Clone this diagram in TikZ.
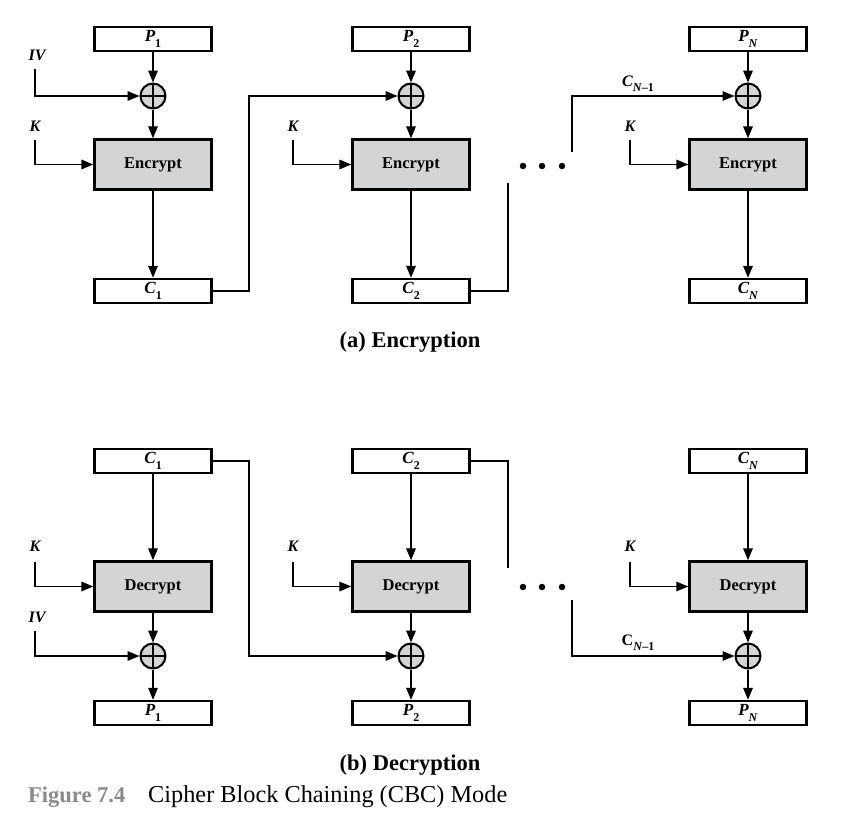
\documentclass[tikz,border=0pt]{standalone}
\usepackage{fontspec}
\setmainfont{Liberation Serif}
\usetikzlibrary{arrows.meta}
\definecolor{boxgray}{RGB}{211,212,214}
\definecolor{capgray}{RGB}{138,138,140}
% subscript set a little lower and smaller than the base letter
\newcommand\lowsub[1]{\raisebox{-0.32em}{\fontsize{12}{12}\selectfont #1}}
\newcommand\ital[1]{\textbf{\textit{#1}}}
\newcommand\upb[1]{\textbf{\textup{#1}}}
\begin{document}
\begin{tikzpicture}[x=1pt,y=-1pt,
  every node/.style={font=\fontsize{16}{18}\selectfont},
  datbox/.style={draw,line width=2.4pt,fill=white,minimum width=117,minimum height=24,inner sep=0pt,
    font=\fontsize{17}{19}\selectfont},
  cipherbox/.style={draw,line width=2.4pt,fill=boxgray,minimum width=117,minimum height=50,inner sep=0pt,
    font=\fontsize{16.5}{18}\selectfont\bfseries},
  xorgate/.style={circle,draw,line width=2pt,fill=boxgray,minimum size=25,inner sep=0pt,
    path picture={\draw[line width=1.6pt]
      (path picture bounding box.north) -- (path picture bounding box.south)
      (path picture bounding box.west) -- (path picture bounding box.east);}},
  keylab/.style={font=\fontsize{16}{18}\selectfont\bfseries\itshape,inner sep=0pt},
  wire/.style={line width=1.7pt,-{Triangle[length=12pt,width=9.5pt]}},
  plain/.style={line width=1.7pt},
  dotmark/.style={circle,fill=black,minimum size=6.5,inner sep=0pt},
  heading/.style={font=\fontsize{22.5}{26}\selectfont\bfseries}
]
\useasboundingbox (0,0) rectangle (845,835);
\fill[white] (0,0) rectangle (845,835);

% ---------------- (a) Encryption ----------------
\foreach \c/\x in {1/153,2/411,3/748}{
  \node[xorgate] (ex\c) at (\x,96) {};
  \node[cipherbox] (enc\c) at (\x,164.5) {Encrypt};
}
\node[datbox] (ep1) at (153,39) {\ital{P}\lowsub{\upb{1}}};
\node[datbox] (ep2) at (411,39) {\ital{P}\lowsub{\upb{2}}};
\node[datbox] (ep3) at (748,39) {\ital{P}\lowsub{\ital{N}}};
\node[datbox] (ec1) at (153,291) {\ital{C}\lowsub{\upb{1}}};
\node[datbox] (ec2) at (411,291) {\ital{C}\lowsub{\upb{2}}};
\node[datbox] (ec3) at (748,291) {\ital{C}\lowsub{\ital{N}}};

\foreach \c in {1,2,3}{
  \draw[wire] (ep\c) -- (ex\c);
  \draw[wire] (ex\c) -- (enc\c);
  \draw[wire] (enc\c) -- (ec\c);
}

\node[keylab] (eiv) at (37,55) {IV};
\coordinate (eivtop) at (35,69);
\draw[wire] (eivtop) |- (ex1.west);

\node[keylab] (ek1) at (35,126) {K};
\node[keylab] (ek2) at (293,126) {K};
\node[keylab] (ek3) at (630,126) {K};
\coordinate (ek1top) at (35,140);
\coordinate (ek2top) at (293,140);
\coordinate (ek3top) at (630,140);
\foreach \c in {1,2,3}{ \draw[wire] (ek\c top) |- (enc\c.west); }

\draw[wire] (ec1.east) -- ++(36,0) |- (ex2.west);
\coordinate (ec2end) at (508,183);
\draw[plain] (ec2.east) -| (ec2end);
\coordinate (ecnstart) at (572,152);
\draw[wire] (ecnstart) |- (ex3.west);
\node[keylab] (ecn) at (638,84) {\ital{C}\lowsub{\ital{N}\upb{–1}}};

\node[dotmark] (ed1) at (523,166) {};
\node[dotmark] (ed2) at (542,166) {};
\node[dotmark] (ed3) at (562,166) {};

\node[heading] (capa) at (410,342) {(a) Encryption};

% ---------------- (b) Decryption ----------------
\foreach \c/\x in {1/153,2/411,3/748}{
  \node[cipherbox] (dec\c) at (\x,586.5) {Decrypt};
  \node[xorgate] (dx\c) at (\x,656) {};
}
\node[datbox] (dc1) at (153,461) {\ital{C}\lowsub{\upb{1}}};
\node[datbox] (dc2) at (411,461) {\ital{C}\lowsub{\upb{2}}};
\node[datbox] (dc3) at (748,461) {\ital{C}\lowsub{\ital{N}}};
\node[datbox] (dp1) at (153,713) {\ital{P}\lowsub{\upb{1}}};
\node[datbox] (dp2) at (411,713) {\ital{P}\lowsub{\upb{2}}};
\node[datbox] (dp3) at (748,713) {\ital{P}\lowsub{\ital{N}}};

\foreach \c in {1,2,3}{
  \draw[wire] (dc\c) -- (dec\c);
  \draw[wire] (dec\c) -- (dx\c);
  \draw[wire] (dx\c) -- (dp\c);
}

\node[keylab] (dk1) at (35,546) {K};
\node[keylab] (dk2) at (293,546) {K};
\node[keylab] (dk3) at (630,546) {K};
\coordinate (dk1top) at (35,562);
\coordinate (dk2top) at (293,562);
\coordinate (dk3top) at (630,562);
\foreach \c in {1,2,3}{ \draw[wire] (dk\c top) |- (dec\c.west); }

\node[keylab] (div) at (37,617) {IV};
\coordinate (divtop) at (35,631);
\draw[wire] (divtop) |- (dx1.west);

\draw[wire] (dc1.east) -- ++(36,0) |- (dx2.west);
\coordinate (dc2end) at (508,568);
\draw[plain] (dc2.east) -| (dc2end);
\coordinate (dcnstart) at (572,600);
\draw[wire] (dcnstart) |- (dx3.west);
\node[keylab] (dcn) at (638,643) {\upb{C}\lowsub{\ital{N}\upb{–1}}};

\node[dotmark] (dd1) at (523,587) {};
\node[dotmark] (dd2) at (542,587) {};
\node[dotmark] (dd3) at (562,587) {};

\node[heading] (capb) at (410,765) {(b) Decryption};

% ---------------- figure caption ----------------
\node[anchor=west,inner sep=0pt,font=\fontsize{22.5}{26}\selectfont\bfseries,text=capgray] (fignum) at (28,797) {Figure 7.4};
\node[anchor=west,inner sep=0pt,font=\fontsize{24.3}{27}\selectfont] (figtitle) at (148,797) {Cipher Block Chaining (CBC) Mode};
\end{tikzpicture}
\end{document}
